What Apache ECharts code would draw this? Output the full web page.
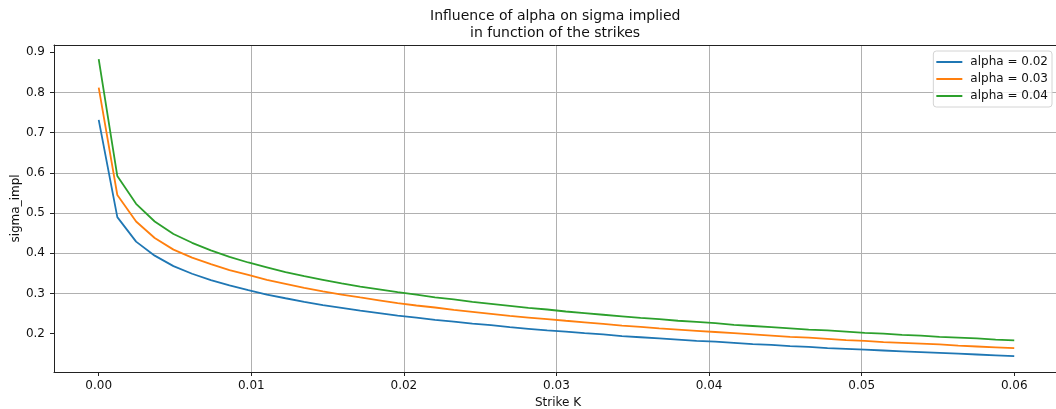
<!DOCTYPE html>
<html>
<head>
<meta charset="utf-8">
<script src="https://cdn.jsdelivr.net/npm/echarts@6/dist/echarts.min.js"></script>
<style>
html,body{margin:0;padding:0;background:#fff;}
#chart{width:1056px;height:409px;}
</style>
</head>
<body>
<div id="chart"></div>
<script>
const strikes = [0, 0.00122, 0.00245, 0.00367, 0.0049, 0.00612, 0.00735, 0.00857, 0.0098, 0.01102,
  0.01224, 0.01347, 0.01469, 0.01592, 0.01714, 0.01837, 0.01959, 0.02082, 0.02204, 0.02327,
  0.02449, 0.02571, 0.02694, 0.02816, 0.02939, 0.03061, 0.03184, 0.03306, 0.03429, 0.03551,
  0.03673, 0.03796, 0.03918, 0.04041, 0.04163, 0.04286, 0.04408, 0.04531, 0.04653, 0.04776,
  0.04898, 0.0502, 0.05143, 0.05265, 0.05388, 0.0551, 0.05633, 0.05755, 0.05878, 0.06];

const sigmaAlpha002 = [0.732, 0.490, 0.429, 0.394, 0.368, 0.349, 0.333, 0.320, 0.308, 0.297,
  0.288, 0.279, 0.271, 0.264, 0.257, 0.251, 0.245, 0.240, 0.234, 0.230,
  0.225, 0.221, 0.216, 0.212, 0.208, 0.205, 0.201, 0.198, 0.194, 0.191,
  0.188, 0.185, 0.182, 0.180, 0.177, 0.174, 0.172, 0.169, 0.167, 0.164,
  0.162, 0.160, 0.158, 0.156, 0.154, 0.152, 0.150, 0.148, 0.146, 0.144];

const sigmaAlpha003 = [0.812, 0.545, 0.479, 0.438, 0.409, 0.389, 0.373, 0.358, 0.346, 0.334,
  0.324, 0.314, 0.305, 0.297, 0.290, 0.283, 0.276, 0.270, 0.265, 0.259,
  0.254, 0.249, 0.244, 0.240, 0.236, 0.232, 0.228, 0.224, 0.220, 0.217,
  0.213, 0.210, 0.207, 0.204, 0.201, 0.198, 0.195, 0.192, 0.190, 0.187,
  0.184, 0.182, 0.179, 0.177, 0.175, 0.173, 0.170, 0.168, 0.166, 0.164];

const sigmaAlpha004 = [0.883, 0.592, 0.523, 0.479, 0.448, 0.426, 0.407, 0.391, 0.377, 0.365,
  0.353, 0.343, 0.334, 0.325, 0.317, 0.310, 0.303, 0.297, 0.290, 0.285,
  0.279, 0.274, 0.269, 0.264, 0.260, 0.255, 0.251, 0.247, 0.243, 0.239,
  0.236, 0.232, 0.229, 0.226, 0.222, 0.219, 0.216, 0.213, 0.210, 0.208,
  0.205, 0.202, 0.200, 0.197, 0.195, 0.192, 0.190, 0.188, 0.185, 0.183];

const seriesNames = ['alpha = 0.02', 'alpha = 0.03', 'alpha = 0.04'];
const seriesColors = ['#1f77b4', '#ff7f0e', '#2ca02c'];
const xTicks = [0, 0.01, 0.02, 0.03, 0.04, 0.05, 0.06];
const yTicks = [0.2, 0.3, 0.4, 0.5, 0.6, 0.7, 0.8, 0.9];
const titleLines = ['Influence of alpha on sigma implied', 'in function of the strikes'];

const FONT = 'DejaVu Sans';
const allSeries = [sigmaAlpha002, sigmaAlpha003, sigmaAlpha004];
const X_MIN = -0.00293, X_MAX = 0.06313;
const titleStyle = {fontFamily: FONT, fontSize: 14, fontWeight: 'normal', color: '#111', lineHeight: 17};

const chart = echarts.init(document.getElementById('chart'), null, {renderer: 'canvas'});
chart.setOption({
  animation: false,
  backgroundColor: '#fff',
  title: [
    {text: titleLines[0], left: 430, top: 8, padding: 0, textStyle: titleStyle},
    {text: titleLines[1], left: 470, top: 25, padding: 0, textStyle: titleStyle}
  ],
  legend: {
    orient: 'vertical',
    right: 4,
    top: 51,
    padding: [4, 4, 4, 3],
    itemGap: 3,
    itemWidth: 26,
    itemHeight: 2,
    icon: 'rect',
    borderColor: '#d4d4d4',
    borderWidth: 1,
    borderRadius: 3,
    backgroundColor: 'rgba(255,255,255,0.8)',
    textStyle: {fontFamily: FONT, fontSize: 12, color: '#111', lineHeight: 14, padding: [0, 0, 0, 3]},
    data: seriesNames
  },
  grid: {
    left: 54, width: 1008, top: 45, height: 327,
    outerBoundsMode: 'none',
    containLabel: false,
    show: false
  },
  xAxis: [{
    type: 'value',
    position: 'bottom',
    min: X_MIN,
    max: X_MAX,
    splitNumber: 6,
    minInterval: 0.01,
    maxInterval: 0.01,
    name: 'Strike K',
    nameLocation: 'middle',
    nameGap: 24,
    nameTextStyle: {fontFamily: FONT, fontSize: 12, color: '#111'},
    axisLine: {show: true, onZero: false, lineStyle: {color: '#222', width: 1}},
    axisTick: {show: true, inside: false, length: 4, lineStyle: {color: '#222', width: 1}, customValues: xTicks},
    axisLabel: {fontFamily: FONT, fontSize: 12, color: '#111', margin: 8,
      customValues: xTicks,
      formatter: v => v.toFixed(2)},
    splitLine: {show: true, showMinLine: false, showMaxLine: false, lineStyle: {color: '#b0b0b0', width: 1}}
  }, {
    type: 'value',
    position: 'top',
    min: X_MIN,
    max: X_MAX,
    axisLine: {show: true, onZero: false, lineStyle: {color: '#222', width: 1}},
    axisTick: {show: false},
    axisLabel: {show: false},
    splitLine: {show: false}
  }],
  yAxis: {
    type: 'value',
    min: 0.1045,
    max: 0.9182,
    splitNumber: 8,
    minInterval: 0.1,
    maxInterval: 0.1,
    name: 'sigma_impl',
    nameLocation: 'middle',
    nameGap: 32,
    nameMoveOverlap: false,
    nameRotate: 90,
    nameTextStyle: {fontFamily: FONT, fontSize: 12, color: '#111'},
    axisLine: {show: true, onZero: false, lineStyle: {color: '#222', width: 1}},
    axisTick: {show: true, inside: false, length: 4, lineStyle: {color: '#222', width: 1}, customValues: yTicks},
    axisLabel: {fontFamily: FONT, fontSize: 12, color: '#111', margin: 9,
      customValues: yTicks,
      formatter: v => v.toFixed(1)},
    splitLine: {show: true, showMinLine: false, showMaxLine: false, lineStyle: {color: '#b0b0b0', width: 1}}
  },
  series: allSeries.map((vals, i) => ({
    name: seriesNames[i],
    type: 'line',
    xAxisIndex: 0,
    showSymbol: false,
    symbol: 'none',
    color: seriesColors[i],
    lineStyle: {width: 1.8, color: seriesColors[i]},
    data: strikes.map((k, j) => [k, vals[j]])
  }))
});
</script>
</body>
</html>
